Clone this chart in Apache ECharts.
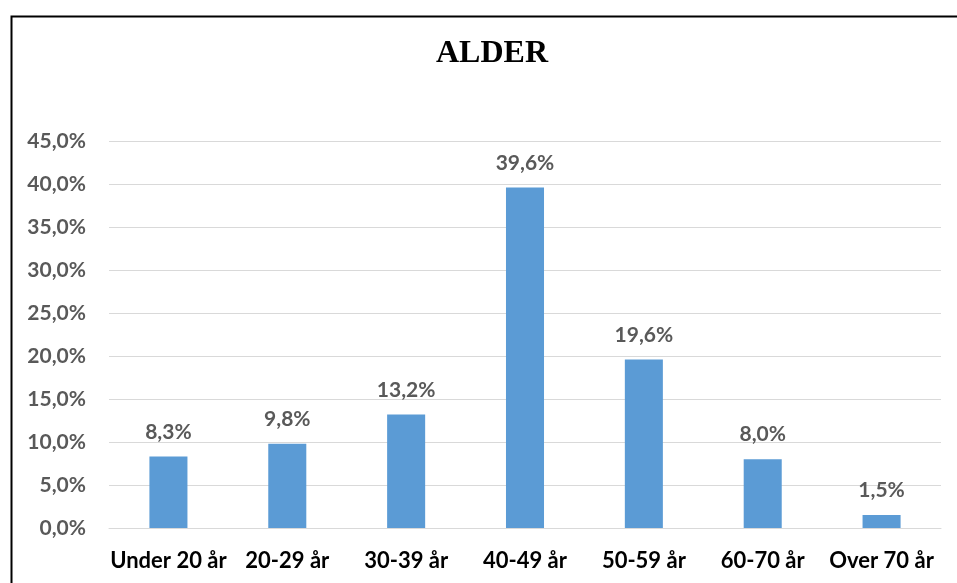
<!DOCTYPE html>
<html><head><meta charset="utf-8">
<script src="https://cdn.jsdelivr.net/npm/echarts@6/dist/echarts.min.js"></script>
<style>html,body{margin:0;padding:0;background:#fff}#c{width:957px;height:583px}</style>
</head><body><div id="c"></div>
<script>
const categories = ['Under 20 år','20-29 år','30-39 år','40-49 år','50-59 år','60-70 år','Over 70 år'];
const values = [8.3, 9.8, 13.2, 39.6, 19.6, 8.0, 1.5];
const chartTitle = 'ALDER';
const fmt = v => v.toFixed(1).replace('.', ',') + '%';
const chart = echarts.init(document.getElementById('c'));
chart.setOption({
  animation: false,
  title: { text: chartTitle, left: 431, top: 33,
    textStyle: { fontFamily: 'Liberation Serif', fontWeight: 'bold', fontSize: 32, color: '#000' } },
  graphic: [{ type: 'rect', left: 9, top: 14, shape: { width: 1200, height: 1200 },
    style: { fill: 'none', stroke: '#000', lineWidth: 2 } }],
  grid: { left: 109, right: 16, top: 141, bottom: 55 },
  xAxis: { type: 'category', data: categories,
    axisLine: { lineStyle: { color: '#d9d9d9', width: 1 } }, axisTick: { show: false },
    axisLabel: { interval: 0, hideOverlap: false, color: '#000', fontFamily: 'Lato', fontWeight: 'bold', fontSize: 22, margin: 22 } },
  yAxis: { type: 'value', min: 0, max: 45, interval: 5,
    axisLabel: { color: '#595959', fontFamily: 'Lato', fontWeight: 'bold', fontSize: 21, margin: 23, formatter: fmt },
    splitLine: { lineStyle: { color: '#d9d9d9', width: 1 } }, axisLine: { show: false }, axisTick: { show: false } },
  series: [{ type: 'bar', data: values, barWidth: '32%', itemStyle: { color: '#5b9bd5' },
    label: { show: true, position: 'top', distance: 14, color: '#595959', fontFamily: 'Lato', fontWeight: 'bold', fontSize: 21,
      formatter: p => fmt(p.value) } }]
});
</script></body></html>
